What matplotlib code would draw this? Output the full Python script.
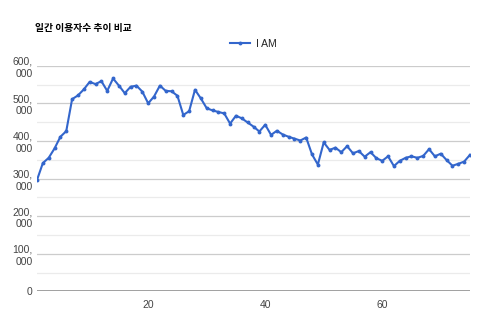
import matplotlib
matplotlib.use("Agg")
import matplotlib.pyplot as plt
from matplotlib.ticker import FuncFormatter, MultipleLocator

title = "일간 이용자수 추이 비교"
series_name = "I AM"
days = list(range(1, 76))
values = [
    296000, 341000, 355000, 380000, 411000, 426000, 511000, 521000, 537000, 557000,
    551000, 559000, 533000, 566000, 547000, 527000, 544000, 547000, 531000, 500000,
    518000, 547000, 533000, 532000, 520000, 469000, 479000, 536000, 513000, 487000,
    481000, 477000, 473000, 446000, 467000, 460000, 449000, 438000, 425000, 443000,
    416000, 427000, 417000, 411000, 406000, 401000, 409000, 364000, 337000, 396000,
    376000, 382000, 370000, 386000, 367000, 373000, 358000, 370000, 354000, 347000,
    359000, 333000, 347000, 355000, 359000, 355000, 360000, 378000, 359000, 366000,
    349000, 334000, 339000, 345000, 363000,
]
x_ticks = [20, 40, 60]
y_ticks = [0, 100000, 200000, 300000, 400000, 500000, 600000]

W, H = 480, 321
fig = plt.figure(figsize=(W / 100, H / 100), dpi=100)
left, right = 37 / W, 470 / W
bottom, top = (H - 291.3) / H, (H - 65.7) / H
ax = fig.add_axes([left, bottom, right - left, top - bottom])

line, = ax.plot(days, values, color="#3366CC", lw=1.5, marker="o", ms=2.8,
                markeredgewidth=0, zorder=3, label=series_name)

ax.set_xlim(1, 75)
ax.set_ylim(0, 600000)
ax.set_xticks(x_ticks)
ax.set_yticks(y_ticks)
ax.yaxis.set_minor_locator(MultipleLocator(50000))

def yfmt(v, pos):
    if v == 0:
        return "0"
    s = f"{int(v):,}"
    a, b = s.split(",", 1)
    return a + ",\n" + b

ax.yaxis.set_major_formatter(FuncFormatter(yfmt))
ax.tick_params(axis="both", length=0, labelsize=7.5, colors="#444444",
               labelfontfamily="Liberation Sans")
ax.tick_params(axis="y", pad=3)
ax.tick_params(axis="x", pad=6)
ax.tick_params(which="minor", length=0)
for lbl in ax.get_yticklabels():
    lbl.set_linespacing(1.25)

ax.grid(True, which="major", axis="y", color="#cccccc", lw=0.9)
ax.grid(True, which="minor", axis="y", color="#ebebeb", lw=0.9)
for s in ax.spines.values():
    s.set_visible(False)
ax.axhline(0, color="#999999", lw=1.3, zorder=2)

fig.text(35 / W, 1 - 28 / H, title, fontsize=7, fontweight="bold",
         family=["Noto Sans CJK KR", "DejaVu Sans"], va="center", ha="left",
         color="#000000")

leg = fig.legend(handles=[line], loc="center", bbox_to_anchor=(253 / W, 1 - 44 / H),
                 frameon=False, handlelength=2.0, handletextpad=0.5,
                 prop={"family": "Liberation Sans", "size": 7.5})
for t in leg.get_texts():
    t.set_color("#222222")

fig.savefig("out.png", dpi=100, facecolor="white")
